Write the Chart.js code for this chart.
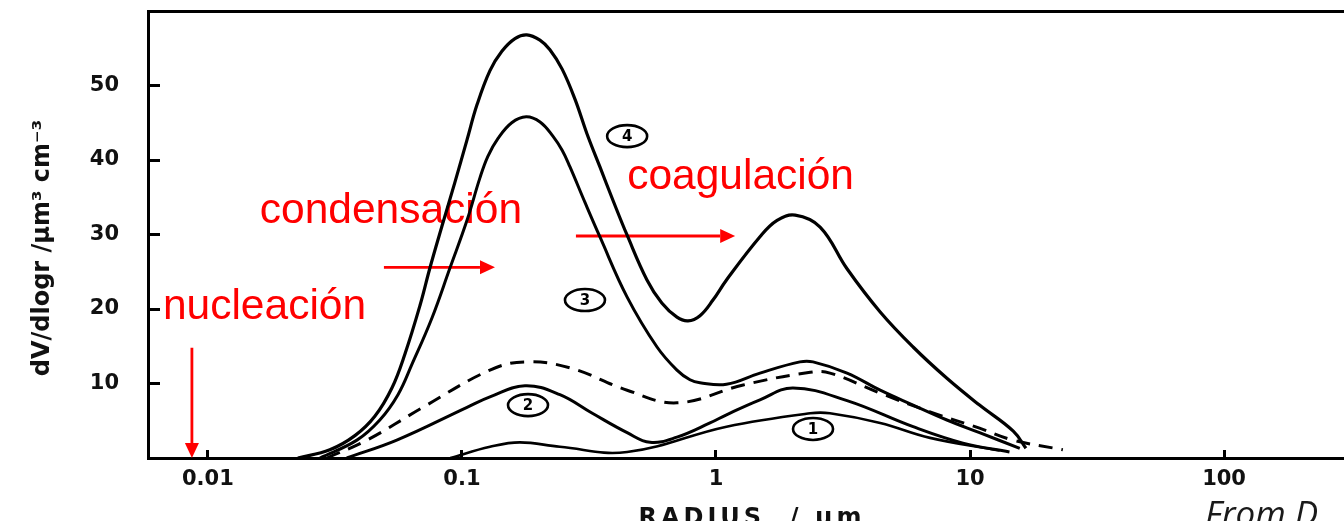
<!DOCTYPE html>
<html><head><meta charset="UTF-8"><title>dV/dlogr vs radio</title>
<script src="https://cdn.jsdelivr.net/npm/chart.js@4.4.1/dist/chart.umd.min.js"></script>
<style>
  html, body { margin: 0; padding: 0; background: #fff; }
  #wrap { width: 1344px; height: 521px; position: relative; overflow: hidden; }
</style></head><body>
<div id="wrap"><canvas id="c" width="1344" height="521"></canvas></div>
<script>
// --- ejes ---
const xTicks = [0.01, 0.1, 1, 10, 100];
const xTickLabels = ['0.01', '0.1', '1', '10', '100'];
const yTicks = [10, 20, 30, 40, 50];

// --- curvas (radio en µm, dV/dlogr) ---
const r1 = [0.09, 0.129, 0.169, 0.243, 0.447, 1.10, 2.35, 2.81, 4.43, 6.96, 13.1];
const v1 = [0, 1.5, 2.1, 1.5, 0.8, 4.2, 6.0, 6.0, 4.7, 2.7, 1.0];

const r2 = [0.0352, 0.0554, 0.1047, 0.1289, 0.177, 0.243, 0.326, 0.447, 0.55, 0.702, 0.947, 1.10, 1.49, 2.01, 3.28, 5.97, 9.38, 14.3];
const v2 = [0, 2.4, 6.8, 8.2, 9.7, 8.5, 6.0, 3.4, 2.1, 2.8, 4.7, 5.8, 7.8, 9.4, 7.7, 4.2, 2.0, 0.8];

const r3 = [0.0276, 0.0386, 0.0475, 0.056, 0.0636, 0.0762, 0.0897, 0.1047, 0.1177, 0.1265, 0.1387, 0.157, 0.179, 0.203, 0.228, 0.248, 0.266, 0.305, 0.349, 0.447, 0.586, 0.702, 0.79, 0.865, 1.10, 1.49, 2.14, 2.41, 3.28, 4.43, 5.97, 8.11, 10.9, 15.7];
const v3 = [0, 2.4, 5.1, 8.5, 12.6, 18.8, 25.5, 31.9, 37.6, 40.5, 42.9, 45.0, 45.8, 45.1, 43.2, 41.3, 39.1, 34.3, 29.7, 21.6, 14.9, 11.8, 10.5, 10.1, 9.9, 11.4, 12.9, 12.9, 11.4, 9.1, 7.1, 5.1, 3.4, 1.3];

const r4 = [0.0226, 0.0302, 0.0379, 0.0454, 0.053, 0.0597, 0.0684, 0.0748, 0.0834, 0.0938, 0.1047, 0.1146, 0.1289, 0.1436, 0.1617, 0.18, 0.2028, 0.222, 0.248, 0.279, 0.31, 0.349, 0.393, 0.447, 0.535, 0.612, 0.702, 0.776, 0.865, 0.973, 1.10, 1.49, 1.74, 2.05, 2.57, 3.28, 4.43, 5.97, 8.11, 10.9, 14.8, 16.6];
const v4 = [0, 1.1, 3.0, 5.6, 9.4, 14.0, 20.5, 25.5, 31.1, 37.0, 42.7, 47.4, 52.0, 54.6, 56.3, 56.8, 56.1, 54.8, 52.2, 48.1, 43.6, 39.1, 34.6, 29.9, 23.9, 20.8, 18.9, 18.4, 19.1, 21.2, 23.9, 29.7, 31.9, 32.6, 31.0, 25.4, 19.6, 14.9, 10.7, 7.1, 3.6, 1.3];

const rD = [0.0294, 0.0423, 0.0702, 0.1289, 0.177, 0.266, 0.447, 0.702, 1.28, 2.35, 2.81, 4.43, 6.96, 10.9, 14.8, 23.2];
const vD = [0, 2.4, 6.8, 11.8, 12.9, 12.1, 9.1, 7.4, 9.8, 11.5, 11.4, 8.7, 6.2, 4.0, 2.4, 1.1];

// etiquetas circuladas
const circleText = ['1', '2', '3', '4'];
const circleR = [2.41, 0.182, 0.305, 0.447];
const circleV = [3.9, 7.1, 21.2, 43.2];

const pts = (r, v) => r.map((x, i) => ({ x, y: v[i] }));
const line = (r, v, extra) => Object.assign({
  data: pts(r, v), borderColor: '#000', borderWidth: 3, pointRadius: 0,
  tension: 0.4, fill: false
}, extra || {});

const RED = '#ff0000';
const notes = [
  { text: 'condensación', r: 0.0160, v: 31.6 },
  { text: 'coagulación', r: 0.447, v: 36.1 },
  { text: 'nucleación', r: 0.00665, v: 18.7 }
];
const arrows = [
  { r0: 0.0493, v0: 25.6, r1: 0.1349, v1: 25.6 },
  { r0: 0.281, v0: 29.8, r1: 1.19, v1: 29.8 },
  { r0: 0.00865, v0: 14.8, r1: 0.00865, v1: 0 }
];

const annot = {
  id: 'annot',
  beforeDatasetsDraw(chart) {
    const { ctx, scales: { x, y } } = chart;
    ctx.save();
    ctx.fillStyle = RED;
    ctx.font = '42.5px "Liberation Sans", Arial, sans-serif';
    ctx.textBaseline = 'alphabetic';
    ctx.textAlign = 'left';
    notes.forEach(n => ctx.fillText(n.text, x.getPixelForValue(n.r), y.getPixelForValue(n.v)));
    ctx.strokeStyle = RED;
    ctx.lineWidth = 2.8;
    arrows.forEach(a => {
      const x0 = x.getPixelForValue(a.r0), y0 = y.getPixelForValue(a.v0);
      const x1 = x.getPixelForValue(a.r1), y1 = y.getPixelForValue(a.v1);
      const ang = Math.atan2(y1 - y0, x1 - x0), hl = 15, hw = 7;
      const bx = x1 - hl * Math.cos(ang), by = y1 - hl * Math.sin(ang);
      ctx.beginPath(); ctx.moveTo(x0, y0); ctx.lineTo(bx, by); ctx.stroke();
      ctx.beginPath();
      ctx.moveTo(x1, y1);
      ctx.lineTo(bx + hw * Math.sin(ang), by - hw * Math.cos(ang));
      ctx.lineTo(bx - hw * Math.sin(ang), by + hw * Math.cos(ang));
      ctx.closePath(); ctx.fill();
    });
    ctx.restore();
  },
  afterDatasetsDraw(chart) {
    const { ctx, scales: { x, y } } = chart;
    ctx.save();
    ctx.strokeStyle = '#000'; ctx.fillStyle = '#000'; ctx.lineWidth = 2.6;
    ctx.font = 'bold 15px "DejaVu Sans", sans-serif';
    ctx.textAlign = 'center'; ctx.textBaseline = 'middle';
    circleText.forEach((t, i) => {
      const cx = x.getPixelForValue(circleR[i]), cy = y.getPixelForValue(circleV[i]);
      ctx.beginPath(); ctx.ellipse(cx, cy, 20, 11, 0, 0, Math.PI * 2); ctx.stroke();
      ctx.fillText(t, cx, cy + 1);
    });
    ctx.restore();
  },
  afterDraw(chart) {
    const { ctx } = chart;
    ctx.save();
    ctx.fillStyle = '#111';
    // título eje y
    ctx.translate(43, 248); ctx.rotate(-Math.PI / 2);
    ctx.font = 'bold 24px "DejaVu Sans", sans-serif';
    ctx.textAlign = 'center'; ctx.textBaseline = 'middle';
    ctx.fillText('dV/dlogr /μm³ cm⁻³', 0, 0);
    ctx.restore();
    ctx.save();
    ctx.fillStyle = '#111';
    ctx.font = 'bold 24px "DejaVu Sans", sans-serif';
    ctx.letterSpacing = '4px';
    ctx.textAlign = 'center'; ctx.textBaseline = 'alphabetic';
    ctx.fillText('RADIUS  / μm', 752, 525);
    ctx.letterSpacing = '0px';
    ctx.fillStyle = '#1a1a1a';
    ctx.font = 'italic 35px "Open Sans", sans-serif';
    ctx.textAlign = 'left';
    ctx.fillText('From D', 1205, 526);
    ctx.restore();
  }
};

const tickFont = { family: '"DejaVu Sans", sans-serif', size: 21, weight: 'bold' };
const noPad = s => { s.paddingTop = 0; s.paddingBottom = 0; s.paddingLeft = 0; s.paddingRight = 0; };

new Chart(document.getElementById('c'), {
  type: 'line',
  data: {
    datasets: [
      line(r4, v4, { borderWidth: 3.2 }),
      line(r3, v3),
      line(rD, vD, { borderDash: [14, 9] }),
      line(r2, v2),
      line(r1, v1, { borderWidth: 2.6 })
    ]
  },
  options: {
    responsive: false,
    animation: false,
    devicePixelRatio: 1,
    layout: { padding: { top: 11, right: 0, left: 0, bottom: 0 } },
    plugins: { legend: { display: false }, tooltip: { enabled: false } },
    scales: {
      x: {
        type: 'logarithmic', position: 'bottom', min: 0.00581, max: 296.6,
        afterFit: s => { s.height = 63; noPad(s); },
        afterBuildTicks: s => { s.ticks = xTicks.map(v => ({ value: v })); },
        ticks: { autoSkip: false, maxRotation: 0, padding: 17, color: '#111', font: tickFont,
                 callback: (v, i) => xTickLabels[i] },
        grid: { drawOnChartArea: false, drawTicks: true, tickLength: -8, tickWidth: 3, color: '#000' },
        border: { display: true, color: '#000', width: 3 }
      },
      x2: {
        type: 'logarithmic', position: 'top', min: 0.00581, max: 296.6,
        afterFit: s => { s.height = 0; noPad(s); },
        ticks: { display: false },
        grid: { drawOnChartArea: false, drawTicks: false },
        border: { display: true, color: '#000', width: 3 }
      },
      y: {
        type: 'linear', position: 'left', min: 0, max: 60,
        afterFit: s => { s.width = 148; noPad(s); },
        afterBuildTicks: s => { s.ticks = yTicks.map(v => ({ value: v })); },
        ticks: { padding: 41, color: '#111', font: tickFont },
        grid: { drawOnChartArea: false, drawTicks: true, tickLength: -12, tickWidth: 3, color: '#000' },
        border: { display: true, color: '#000', width: 3 }
      }
    }
  },
  plugins: [annot]
});
</script>
</body></html>
